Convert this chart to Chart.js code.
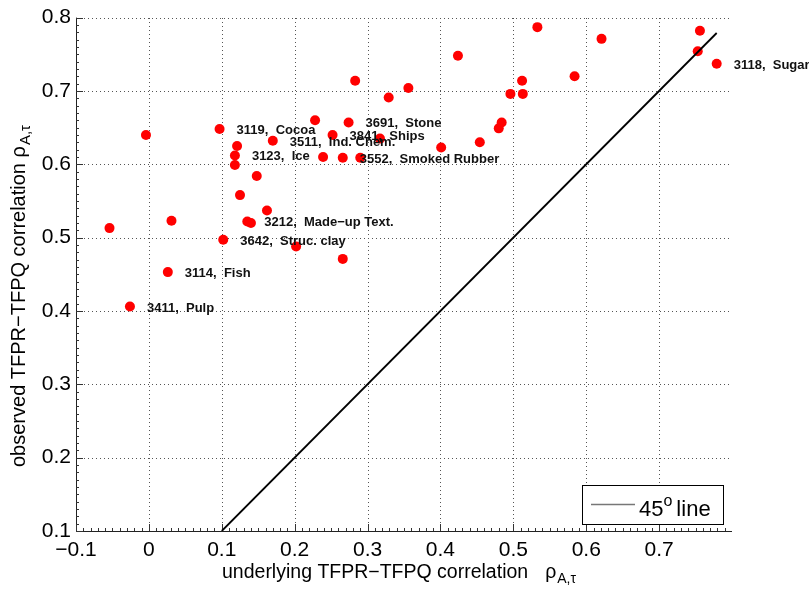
<!DOCTYPE html>
<html>
<head>
<meta charset="utf-8">
<script src="https://cdn.jsdelivr.net/npm/chart.js@4.4.1/dist/chart.umd.min.js"></script>
<style>
  html, body { margin: 0; padding: 0; background: #fff; }
  #wrap { width: 809px; height: 592px; position: relative; }
</style>
</head>
<body>
<div id="wrap"><canvas id="corrChart"></canvas></div>
<script>
// industry-level correlations: underlying (x) vs observed (y)
const underlying = [
  -0.004, -0.054, 0.031, 0.026, 0.097, 0.121, 0.118, 0.118, 0.148, 0.125,
  0.162, 0.135, 0.140, 0.102, 0.202, 0.266, 0.228, 0.252, 0.170, 0.274,
  0.239, 0.266, 0.290, 0.317, 0.283, 0.329, 0.356, 0.424, 0.533, 0.621,
  0.756, 0.753, 0.779, 0.584, 0.512, 0.496, 0.513, 0.484, 0.480, 0.454,
  0.401, -0.026
];
const observed = [
  0.640, 0.513, 0.523, 0.453, 0.648, 0.625, 0.612, 0.599, 0.584, 0.558,
  0.537, 0.522, 0.520, 0.497, 0.488, 0.471, 0.660, 0.640, 0.632, 0.657,
  0.610, 0.609, 0.609, 0.635, 0.714, 0.691, 0.704, 0.748, 0.787, 0.771,
  0.782, 0.754, 0.737, 0.720, 0.714, 0.696, 0.696, 0.657, 0.649, 0.630,
  0.623, 0.406
];
const industryLabels = [
  '', '', '', '3114,  Fish', '3119,  Cocoa', '', '3123,  Ice', '', '', '',
  '', '3212,  Made\u2212up Text.', '', '3642,  Struc. clay', '', '', '', '3841,  Ships', '3511,  Ind. Chem.', '3691,  Stone',
  '', '3552,  Smoked Rubber', '', '', '', '', '', '', '', '',
  '', '', '3118,  Sugar', '', '', '', '', '', '', '',
  '', '3411,  Pulp'
];
// 45 degree reference line
const lineX = [0.1, 0.779];
const lineY = [0.1, 0.779];

const xTicks = [-0.1, 0, 0.1, 0.2, 0.3, 0.4, 0.5, 0.6, 0.7];
const yTicks = [0.1, 0.2, 0.3, 0.4, 0.5, 0.6, 0.7, 0.8];

const FONT = "'Liberation Sans', Arial, Helvetica, sans-serif";

function fmtTick(v) {
  if (Math.abs(v) < 1e-9) return '0';
  const s = Math.abs(v).toFixed(1);
  return v < 0 ? '\u2212' + s : s;
}

// draw a run of text pieces with their own size and baseline shift
function drawRich(ctx, x, y, parts) {
  let cx = x;
  parts.forEach(p => {
    ctx.font = (p.bold ? 'bold ' : '') + p.size + 'px ' + FONT;
    ctx.fillText(p.text, cx, y + (p.dy || 0));
    cx += ctx.measureText(p.text).width + (p.gap || 0);
  });
  return cx;
}

const axesPlugin = {
  id: 'matlabAxes',
  beforeDatasetsDraw(chart) {
    const { ctx, chartArea: a, scales: { x, y } } = chart;
    ctx.save();
    // dotted grid
    ctx.strokeStyle = '#555';
    ctx.lineWidth = 1;
    ctx.setLineDash([1, 3]);
    xTicks.forEach(v => {
      if (v <= -0.1) return;
      const px = Math.round(x.getPixelForValue(v)) + 0.5;
      ctx.beginPath(); ctx.moveTo(px, a.bottom); ctx.lineTo(px, a.top); ctx.stroke();
    });
    yTicks.forEach(v => {
      if (v <= 0.1) return;
      const py = Math.round(y.getPixelForValue(v)) + 0.5;
      ctx.beginPath(); ctx.moveTo(a.left, py); ctx.lineTo(a.right, py); ctx.stroke();
    });
    ctx.setLineDash([]);
    // axis lines
    ctx.strokeStyle = '#222';
    ctx.beginPath();
    ctx.moveTo(a.left + 0.5, a.top);
    ctx.lineTo(a.left + 0.5, a.bottom + 0.5);
    ctx.lineTo(a.right, a.bottom + 0.5);
    ctx.stroke();
    // major and minor ticks pointing inwards
    ctx.strokeStyle = '#333';
    for (let i = -10; i < 80; i++) {
      const px = Math.round(x.getPixelForValue(i / 100)) + 0.5;
      const len = i % 10 === 0 ? 7 : 3;
      ctx.beginPath(); ctx.moveTo(px, a.bottom); ctx.lineTo(px, a.bottom - len); ctx.stroke();
    }
    for (let i = 10; i <= 80; i++) {
      const py = Math.round(y.getPixelForValue(i / 100)) + 0.5;
      const len = i % 10 === 0 ? 7 : 3;
      ctx.beginPath(); ctx.moveTo(a.left, py); ctx.lineTo(a.left + len, py); ctx.stroke();
    }
    ctx.restore();
  },
  afterDatasetsDraw(chart) {
    const { ctx } = chart;
    const meta = chart.getDatasetMeta(1);
    ctx.save();
    ctx.fillStyle = '#111';
    ctx.textBaseline = 'alphabetic';
    ctx.font = 'bold 13px ' + FONT;
    meta.data.forEach((pt, i) => {
      const txt = industryLabels[i];
      if (!txt) return;
      ctx.fillText(txt, pt.x + 17, pt.y + 5);
    });
    ctx.restore();
  },
  afterDraw(chart) {
    const { ctx } = chart;
    ctx.save();
    ctx.fillStyle = '#000';
    ctx.textBaseline = 'alphabetic';
    // x axis title
    drawRich(ctx, 222, 578, [
      { text: 'underlying TFPR\u2212TFPQ correlation', size: 19.5, gap: 17 },
      { text: '\u03c1', size: 19.5, gap: 1 },
      { text: 'A,\u03c4', size: 14, dy: 5 }
    ]);
    // y axis title, rotated
    ctx.translate(25, 467);
    ctx.rotate(-Math.PI / 2);
    drawRich(ctx, 0, 0, [
      { text: 'observed TFPR\u2212TFPQ correlation ', size: 20 },
      { text: '\u03c1', size: 20, gap: 1 },
      { text: 'A,\u03c4', size: 15, dy: 5 }
    ]);
    ctx.restore();

    // legend box
    ctx.save();
    ctx.fillStyle = '#fff';
    ctx.fillRect(582.5, 485.5, 141, 39);
    ctx.strokeStyle = '#000';
    ctx.lineWidth = 1;
    ctx.strokeRect(582.5, 485.5, 141, 39);
    ctx.strokeStyle = '#777';
    ctx.lineWidth = 1.5;
    ctx.beginPath(); ctx.moveTo(591, 504.5); ctx.lineTo(635, 504.5); ctx.stroke();
    ctx.fillStyle = '#000';
    drawRich(ctx, 639, 516, [
      { text: '45', size: 22 },
      { text: 'o', size: 16, dy: -10, gap: 4 },
      { text: 'line', size: 22 }
    ]);
    ctx.restore();
  }
};

new Chart(document.getElementById('corrChart'), {
  type: 'scatter',
  data: {
    datasets: [
      {
        label: '45 line',
        type: 'line',
        data: lineX.map((v, i) => ({ x: v, y: lineY[i] })),
        borderColor: '#000',
        borderWidth: 1.8,
        pointRadius: 0,
        fill: false,
        tension: 0
      },
      {
        label: 'industries',
        data: underlying.map((v, i) => ({ x: v, y: observed[i] })),
        backgroundColor: '#ff0000',
        borderWidth: 0,
        pointRadius: 5,
        pointHoverRadius: 5
      }
    ]
  },
  options: {
    responsive: true,
    maintainAspectRatio: false,
    animation: false,
    layout: { padding: { left: 0, top: 15, right: 77, bottom: 0 } },
    plugins: {
      legend: { display: false },
      tooltip: { enabled: false }
    },
    scales: {
      x: {
        type: 'linear',
        min: -0.1,
        max: 0.8,
        afterBuildTicks: s => { s.ticks = xTicks.map(v => ({ value: v })); },
        afterFit: s => { s.height = 61; },
        grid: { display: false, drawTicks: false },
        border: { display: false },
        ticks: {
          color: '#000',
          padding: 7,
          maxRotation: 0,
          autoSkip: false,
          font: { family: FONT, size: 21 },
          callback: v => fmtTick(v)
        }
      },
      y: {
        type: 'linear',
        min: 0.1,
        max: 0.8,
        afterBuildTicks: s => { s.ticks = yTicks.map(v => ({ value: v })); },
        afterFit: s => { s.width = 76; },
        grid: { display: false, drawTicks: false },
        border: { display: false },
        ticks: {
          color: '#000',
          padding: 5,
          autoSkip: false,
          font: { family: FONT, size: 21 },
          callback: v => fmtTick(v)
        }
      }
    }
  },
  plugins: [axesPlugin]
});
</script>
</body>
</html>
